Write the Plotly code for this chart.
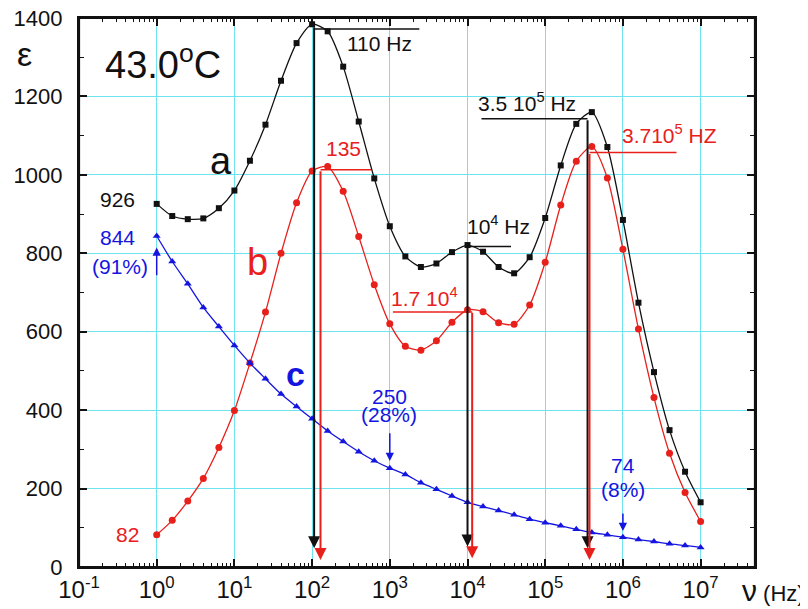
import plotly.graph_objects as go

# frequencies (Hz)
freq = [1, 1.585, 2.512, 3.981, 6.310, 10, 15.85, 25.12, 39.81, 63.10,
        100, 158.5, 251.2, 398.1, 631.0, 1000, 1585, 2512, 3981, 6310,
        1e4, 1.585e4, 2.512e4, 3.981e4, 6.310e4, 1e5, 1.585e5, 2.512e5, 3.981e5, 6.310e5,
        1e6, 1.585e6, 2.512e6, 3.981e6, 6.310e6, 1e7]

eps_a = [926, 895, 887, 889, 915, 960, 1036, 1128, 1240, 1336,
         1384, 1366, 1276, 1136, 991, 869, 792, 765, 774, 803,
         821, 804, 765, 749, 790, 890, 1024, 1130, 1160, 1071,
         885, 674, 497, 349, 243, 165]

eps_b = [82, 119, 168, 226, 305, 399, 520, 650, 800, 929,
         1010, 1021, 958, 843, 720, 620, 563, 553, 577, 624,
         656, 651, 623, 619, 668, 777, 923, 1035, 1072, 992,
         810, 607, 432, 290, 190, 116]

eps_c = [844, 779, 722, 662, 613, 565, 520, 480, 441, 409,
         378, 347, 320, 294, 271, 252, 236, 215, 198, 181,
         165, 154, 144, 133, 122, 113, 105, 96, 88, 82,
         76, 70, 65, 59, 55, 50]

xtick_vals = [0.1, 1, 10, 100, 1e3, 1e4, 1e5, 1e6, 1e7]
xtick_text = ["10<sup>-1</sup>", "10<sup>0</sup>", "10<sup>1</sup>", "10<sup>2</sup>",
              "10<sup>3</sup>", "10<sup>4</sup>", "10<sup>5</sup>", "10<sup>6</sup>",
              "10<sup>7</sup>"]
ytick_vals = [0, 200, 400, 600, 800, 1000, 1200, 1400]

BLACK = "#111111"
RED = "#E8201C"
BLUE = "#1515E0"
GRID = "#6FE3EE"
FONT = "Liberation Sans, Arial, sans-serif"

fig = go.Figure()
fig.add_trace(go.Scatter(x=freq, y=eps_a, mode="lines+markers", line=dict(color=BLACK, width=1.3, shape="spline", smoothing=0.7),
                         marker=dict(symbol="square", size=6, color=BLACK)))
fig.add_trace(go.Scatter(x=freq, y=eps_b, mode="lines+markers", line=dict(color=RED, width=1.3, shape="spline", smoothing=0.7),
                         marker=dict(symbol="circle", size=7, color=RED)))
fig.add_trace(go.Scatter(x=freq, y=eps_c, mode="lines+markers", line=dict(color=BLUE, width=1.3, shape="spline", smoothing=0.7),
                         marker=dict(symbol="triangle-up", size=7, color=BLUE)))

annotations = []
shapes = []

def text(x, y, t, color, size=21, xanchor="center", ref="x"):
    annotations.append(dict(x=x, y=y, xref=ref, yref="y" if ref == "x" else "paper", text=t, showarrow=False,
                            font=dict(color=color, size=size, family=FONT), xanchor=xanchor, yanchor="middle"))

def arrow(x, y_tail, y_tip, color, width=2, size=1.2):
    annotations.append(dict(x=x, y=y_tip, ax=x, ay=y_tail, xref="x", yref="y", axref="x", ayref="y",
                            text="", showarrow=True, arrowhead=2, arrowsize=size, arrowwidth=width,
                            arrowcolor=color))

def hline(x0, x1, y, color):
    # x0, x1 given as log10(frequency)
    shapes.append(dict(type="line", xref="x", yref="y", x0=10 ** x0, x1=10 ** x1, y0=y, y1=y,
                       line=dict(color=color, width=1.5)))

# peak markers (x in log10 units)
arrow(2.026, 1380, 48, BLACK)
hline(2.026, 3.38, 1372, BLACK)
arrow(2.108, 1013, 18, RED)
hline(2.108, 2.76, 1013, RED)
arrow(4.0, 821, 52, BLACK)
hline(4.0, 4.56, 817, BLACK)
arrow(4.06, 652, 22, RED)
hline(3.04, 4.06, 650, RED)
arrow(5.545, 1143, 48, BLACK)
hline(4.18, 5.545, 1143, BLACK)
arrow(5.57, 1057, 18, RED)
hline(5.57, 6.69, 1057, RED)

# blue arrows
arrow(0.0, 740, 815, BLUE, width=1.5, size=1.1)
arrow(3.0, 345, 270, BLUE, width=1.5, size=1.1)
arrow(6.0, 140, 92, BLUE, width=1.5, size=1.1)

# plot frame
shapes.append(dict(type="rect", xref="paper", yref="paper", x0=0, x1=1, y0=0, y1=1,
                   line=dict(color=BLACK, width=2.2), fillcolor="rgba(0,0,0,0)"))

text(2.87, 1334, "110 Hz", BLACK)
text(2.41, 1066, "135", RED)
text(4.40, 872, "10<sup>4</sup> Hz", BLACK)
text(3.45, 688, "1.7 10<sup>4</sup>", RED)
text(4.77, 1185, "3.5 10<sup>5</sup> Hz", BLACK)
text(6.60, 1104, "3.710<sup>5</sup> HZ", RED)
text(-0.50, 938, "926", BLACK)
text(-0.38, 82, "82", RED)
text(-0.51, 840, "844", BLUE)
text(-0.47, 766, "(91%)", BLUE)
text(2.99, 436, "250", BLUE)
text(2.99, 389, "(28%)", BLUE)
text(6.0, 260, "74", BLUE)
text(6.0, 198, "(8%)", BLUE)
text(0.83, 1036, "a", BLACK, size=38)
text(1.30, 777, "b", RED, size=38)
text(1.78, 492, "<b>c</b>", BLUE, size=34)
text(0.08, 1287, "43.0<sup>o</sup>C", BLACK, size=38)
text(-0.081, 0.935, "ε", BLACK, size=34, ref="paper")
text(0.978, -0.042, "<span style='font-size:30px'>ν</span> (Hz)", BLACK, size=22, xanchor="left", ref="paper")

# page body adds an 8 px offset, so the figure is 8 px smaller and margins shifted
fig.update_layout(
    width=800, height=601,
    margin=dict(l=71, r=53, t=10, b=42),
    paper_bgcolor="white", plot_bgcolor="white",
    showlegend=False,
    font=dict(family=FONT, color=BLACK, size=23),
    annotations=annotations,
    shapes=shapes,
)
fig.update_xaxes(type="log", range=[-1, 7.7], tickvals=xtick_vals, ticktext=xtick_text,
                 showgrid=True, gridcolor=GRID, gridwidth=1.2, automargin=False,
                 showline=True, linecolor=BLACK, linewidth=2.2, mirror="allticks",
                 ticks="inside", ticklen=8, tickwidth=1.5, tickcolor=BLACK,
                 minor=dict(ticks="inside", ticklen=4, tickwidth=1.2, tickcolor=BLACK, dtick="D1", showgrid=False),
                 tickfont=dict(size=24), ticklabeloverflow="allow", zeroline=False)
fig.update_yaxes(range=[0, 1400], tickvals=ytick_vals,
                 showgrid=True, gridcolor=GRID, gridwidth=1.2, automargin=False,
                 showline=True, linecolor=BLACK, linewidth=2.2, mirror="allticks",
                 ticks="inside", ticklen=8, tickwidth=1.5, tickcolor=BLACK,
                 minor=dict(ticks="inside", ticklen=5, tickwidth=1.2, tickcolor=BLACK, dtick=100, showgrid=False),
                 tickfont=dict(size=22), ticklabelstandoff=10, ticklabeloverflow="allow", zeroline=False)

fig.write_html("out.html")
